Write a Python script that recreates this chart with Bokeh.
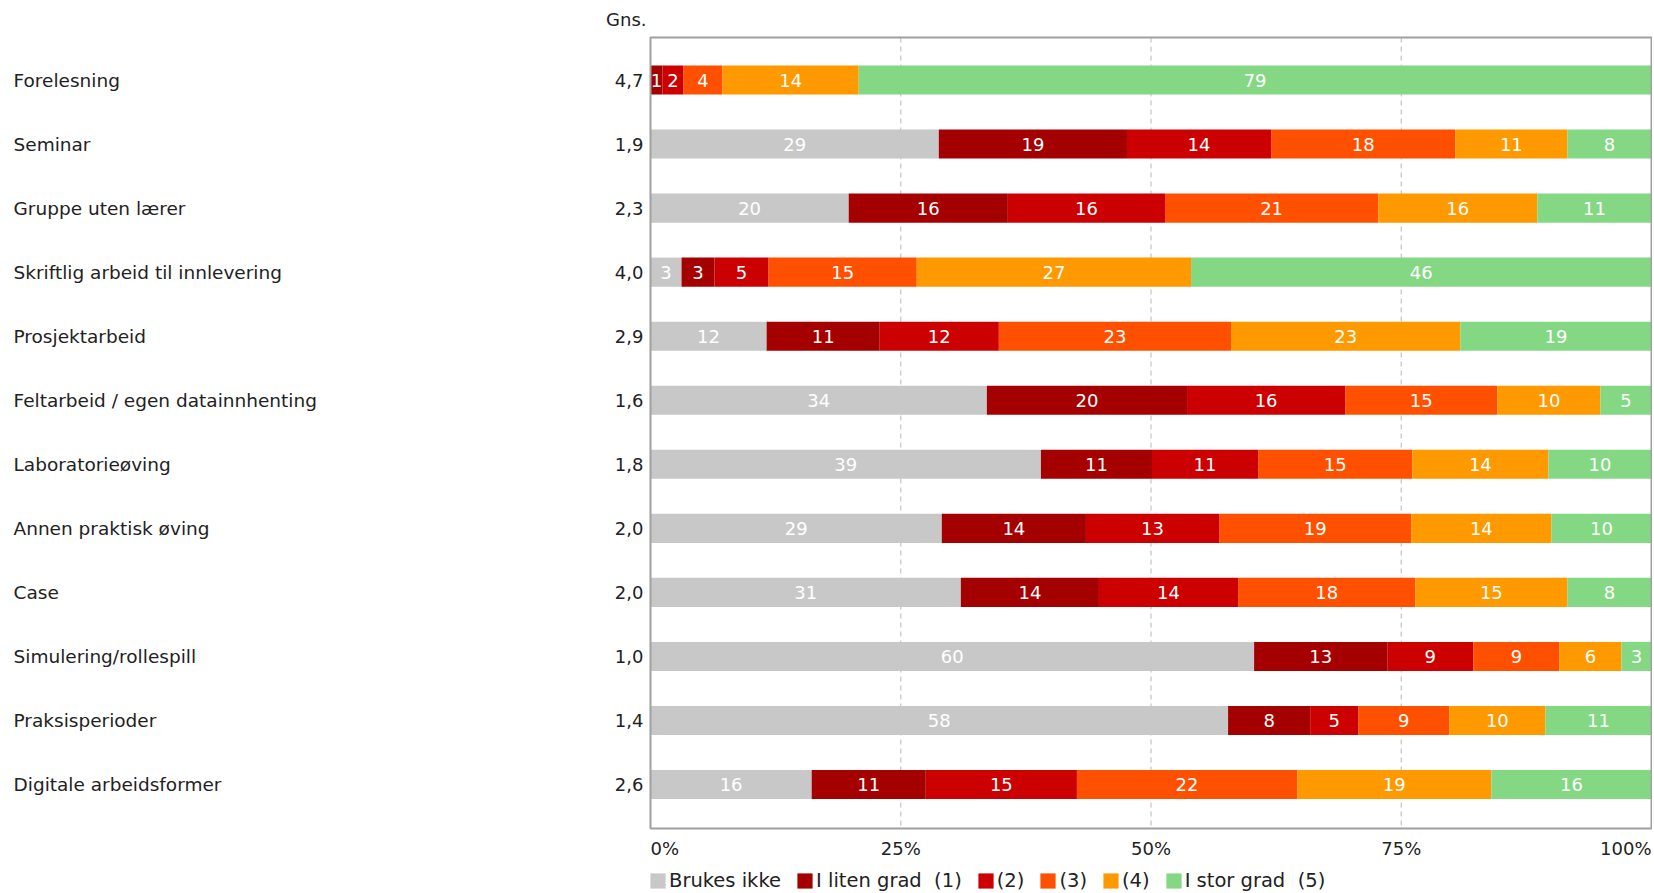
from bokeh.plotting import figure
from bokeh.models import Range1d, Legend, LegendItem, ColumnDataSource
from bokeh.core.properties import value
from bokeh.embed import file_html
from bokeh.resources import INLINE

# ---------------- data ----------------
categories = [
    "Forelesning", "Seminar", "Gruppe uten lærer", "Skriftlig arbeid til innlevering",
    "Prosjektarbeid", "Feltarbeid / egen datainnhenting", "Laboratorieøving",
    "Annen praktisk øving", "Case", "Simulering/rollespill", "Praksisperioder",
    "Digitale arbeidsformer",
]
averages = ["4,7", "1,9", "2,3", "4,0", "2,9", "1,6", "1,8", "2,0", "2,0", "1,0", "1,4", "2,6"]

series_names = ["Brukes ikke", "I liten grad  (1)", "(2)", "(3)", "(4)", "I stor grad  (5)"]
series_colors = ["#c8c8c8", "#a50000", "#cc0000", "#ff5000", "#ff9900", "#84d884"]

brukes_ikke = [0.0, 28.8, 19.8, 3.1, 11.6, 33.6, 39.0, 29.1, 31.0, 60.3, 57.7, 16.1]
grad_1 = [1.2, 18.8, 15.9, 3.3, 11.3, 20.0, 11.1, 14.4, 13.8, 13.3, 8.2, 11.4]
grad_2 = [2.1, 14.4, 15.7, 5.4, 11.9, 15.8, 10.6, 13.3, 13.9, 8.6, 4.8, 15.1]
grad_3 = [3.9, 18.4, 21.3, 14.8, 23.2, 15.2, 15.4, 19.2, 17.7, 8.6, 9.1, 22.0]
grad_4 = [13.6, 11.2, 15.9, 27.4, 22.9, 10.3, 13.6, 14.0, 15.2, 6.2, 9.6, 19.4]
grad_5 = [79.2, 8.4, 11.4, 46.0, 19.1, 5.1, 10.3, 10.0, 8.4, 3.0, 10.6, 16.0]
series_values = [brukes_ikke, grad_1, grad_2, grad_3, grad_4, grad_5]

tick_values = [0, 25, 50, 75, 100]
tick_labels = ["0%", "25%", "50%", "75%", "100%"]

# ---------------- layout constants (pixels) ----------------
W, H = 1652, 892
X0_PX, PX_PER_PCT = 650.0, 10.01          # pixel of 0 %, pixels per percent
ROW0_PX, ROW_STEP = 79.5, 64.05           # pixel of first row centre, row spacing


def xd(px):
    return (px - X0_PX) / PX_PER_PCT


def yd(py):
    return (py - ROW0_PX) / ROW_STEP


FONT = "DejaVu Sans"
TXT = "#222222"
FS = "18px"
FS_CAT = "18.5px"
n = len(categories)
rows = list(range(n))

p = figure(
    width=W, height=H,
    x_range=Range1d(xd(0), xd(W)), y_range=Range1d(yd(H), yd(0)),
    x_axis_location=None, y_axis_location=None,
    min_border=0, toolbar_location=None, output_backend="svg",
    background_fill_color="white", border_fill_color="white", outline_line_color=None,
)
p.xgrid.visible = False
p.ygrid.visible = False

frame_top, frame_bottom = yd(37), yd(828)

# dashed vertical grid lines
grid_x = tick_values[1:-1]
p.segment(x0=grid_x, x1=grid_x, y0=[frame_top] * len(grid_x), y1=[frame_bottom] * len(grid_x),
          line_color="#c4c4c4", line_dash="5 4", line_width=1.2)

# stacked bars
left = [0.0] * n
legend_items = []
lab_x, lab_y, lab_t = [], [], []
for name, col, vals in zip(series_names, series_colors, series_values):
    right = [l + v for l, v in zip(left, vals)]
    src = ColumnDataSource(dict(y=rows, left=left, right=right))
    r = p.hbar(y="y", left="left", right="right", height=0.455, source=src,
               fill_color=col, line_color=None)
    legend_items.append(LegendItem(label=name, renderers=[r]))
    for i, v in enumerate(vals):
        if v > 0:
            lab_x.append(left[i] + v / 2)
            lab_y.append(i)
            lab_t.append(str(int(v + 0.5)))
    left = right

p.text(x=lab_x, y=lab_y, text=lab_t, text_align="center", text_baseline="middle",
       text_color="white", text_font=value(FONT), text_font_size=FS)

# plot frame
p.quad(left=[tick_values[0]], right=[tick_values[-1]], top=[frame_top], bottom=[frame_bottom],
       fill_color=None, line_color="#a0a0a0", line_width=2)

# row names and averages
p.text(x=[xd(13)] * n, y=rows, text=categories, text_align="left", text_baseline="middle",
       text_color=TXT, text_font=value(FONT), text_font_size=FS_CAT)
p.text(x=[xd(643)] * n, y=rows, text=averages, text_align="right", text_baseline="middle",
       text_color=TXT, text_font=value(FONT), text_font_size=FS)
p.text(x=[xd(646)], y=[yd(19)], text=["Gns."], text_align="right", text_baseline="middle",
       text_color=TXT, text_font=value(FONT), text_font_size=FS)

# x tick labels
aligns = ["left"] + ["center"] * (len(tick_values) - 2) + ["right"]
p.text(x=tick_values, y=[yd(848)] * len(tick_values), text=tick_labels, text_align=aligns,
       text_baseline="middle", text_color=TXT, text_font=value(FONT), text_font_size=FS)

legend = Legend(items=legend_items, orientation="horizontal", location=(int(X0_PX) - 2, 0),
                label_text_font=FONT, label_text_font_size="19.5px", label_text_color=TXT,
                glyph_width=19, glyph_height=19, label_standoff=2, spacing=14,
                padding=0, margin=0, border_line_color=None, background_fill_alpha=0,
                label_height=19)
p.add_layout(legend)

open("out.html", "w").write(file_html(p, INLINE))
